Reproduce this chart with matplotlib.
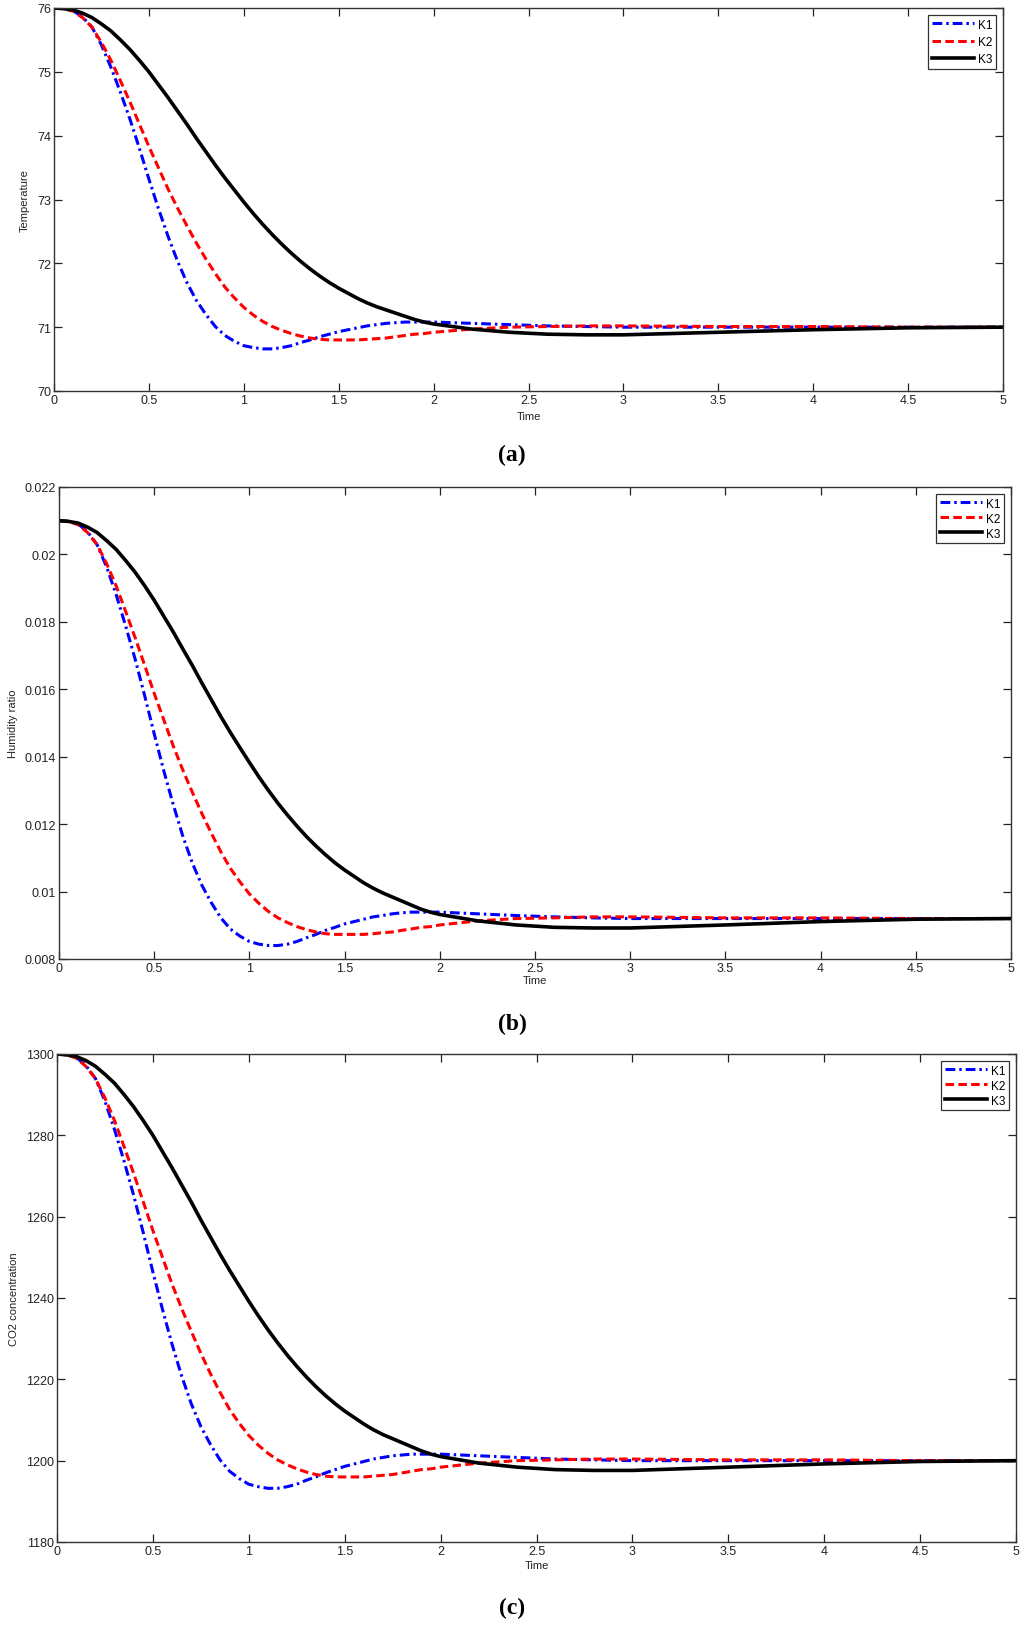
import numpy as np
import matplotlib
matplotlib.use('Agg')
import matplotlib.pyplot as plt
from matplotlib.ticker import FuncFormatter, MultipleLocator

plt.rcParams['font.family'] = ['Liberation Sans', 'DejaVu Sans']

# time samples
t = [0, 0.05, 0.1, 0.15, 0.2, 0.25, 0.3, 0.35, 0.4, 0.45, 0.5, 0.55, 0.6, 0.65,
     0.7, 0.75, 0.8, 0.85, 0.9, 0.95, 1.0, 1.05, 1.1, 1.15, 1.2, 1.25, 1.3, 1.35,
     1.4, 1.45, 1.5, 1.55, 1.6, 1.65, 1.7, 1.75, 1.8, 1.85, 1.9, 1.95, 2.0,
     2.2, 2.4, 2.6, 2.8, 3.0, 3.5, 4.0, 4.5, 5.0]

# (a) temperature
temp_k1 = [76.0, 75.99, 75.96, 75.86, 75.7, 75.42, 75.07, 74.68, 74.26, 73.8, 73.32,
           72.86, 72.43, 72.04, 71.7, 71.42, 71.2, 71.01, 70.87, 70.78, 70.71, 70.68,
           70.66, 70.66, 70.68, 70.71, 70.76, 70.8, 70.85, 70.89, 70.93, 70.96,
           70.99, 71.02, 71.04, 71.06, 71.07, 71.08, 71.08, 71.08, 71.08,
           71.06, 71.04, 71.02, 71.01, 71.0, 71.0, 71.0, 71.0, 71.0]
temp_k2 = [76.0, 75.99, 75.95, 75.85, 75.7, 75.46, 75.18, 74.86, 74.53, 74.18, 73.83,
           73.5, 73.17, 72.87, 72.59, 72.32, 72.07, 71.84, 71.63, 71.46, 71.31, 71.19,
           71.09, 71.01, 70.95, 70.9, 70.86, 70.83, 70.81, 70.8, 70.8, 70.8, 70.8,
           70.81, 70.82, 70.83, 70.85, 70.87, 70.89, 70.9, 70.92,
           70.97, 71.0, 71.01, 71.02, 71.02, 71.01, 71.01, 71.0, 71.0]
temp_k3 = [76.0, 75.99, 75.97, 75.92, 75.85, 75.75, 75.64, 75.5, 75.35, 75.18, 75.0,
           74.8, 74.6, 74.39, 74.18, 73.96, 73.75, 73.54, 73.34, 73.15, 72.96, 72.78,
           72.61, 72.45, 72.3, 72.16, 72.03, 71.91, 71.8, 71.7, 71.61, 71.53, 71.45,
           71.38, 71.32, 71.27, 71.22, 71.17, 71.12, 71.08, 71.05,
           70.97, 70.92, 70.89, 70.88, 70.88, 70.92, 70.96, 70.99, 71.0]

# (b) humidity ratio
hum_k1 = [0.02100, 0.02098, 0.02091, 0.02067, 0.02029, 0.01963, 0.01881, 0.01788,
          0.01689, 0.01581, 0.01468, 0.01359, 0.01258, 0.01165, 0.01085, 0.01019,
          0.00967, 0.00922, 0.00889, 0.00868, 0.00852, 0.00844, 0.00840, 0.00840,
          0.00844, 0.00852, 0.00863, 0.00873, 0.00885, 0.00894, 0.00904, 0.00911,
          0.00918, 0.00925, 0.00929, 0.00934, 0.00937, 0.00939, 0.00939, 0.00939,
          0.00939, 0.00934, 0.00929, 0.00925, 0.00922, 0.0092, 0.0092, 0.0092,
          0.0092, 0.0092]
hum_k2 = [0.02100, 0.02098, 0.02088, 0.02065, 0.02029, 0.01973, 0.01907, 0.01831,
          0.01753, 0.01671, 0.01588, 0.01510, 0.01432, 0.01361, 0.01295, 0.01232,
          0.01173, 0.01118, 0.01069, 0.01029, 0.00993, 0.00965, 0.00941, 0.00922,
          0.00908, 0.00896, 0.00887, 0.00880, 0.00875, 0.00873, 0.00873, 0.00873,
          0.00873, 0.00875, 0.00878, 0.00880, 0.00885, 0.00889, 0.00894, 0.00896,
          0.00901, 0.00913, 0.00920, 0.00922, 0.00925, 0.00925, 0.00922, 0.00922,
          0.0092, 0.0092]
hum_k3 = [0.02100, 0.02098, 0.02093, 0.02081, 0.02065, 0.02041, 0.02015, 0.01982,
          0.01947, 0.01907, 0.01864, 0.01817, 0.01770, 0.01720, 0.01671, 0.01619,
          0.01569, 0.01519, 0.01472, 0.01427, 0.01383, 0.01340, 0.01300, 0.01262,
          0.01227, 0.01194, 0.01163, 0.01135, 0.01109, 0.01085, 0.01064, 0.01045,
          0.01026, 0.01010, 0.00996, 0.00984, 0.00972, 0.00960, 0.00948, 0.00939,
          0.00932, 0.00913, 0.00901, 0.00894, 0.00892, 0.00892, 0.00901, 0.00911,
          0.00918, 0.0092]

# (c) CO2 concentration
co2_k1 = [1300, 1299.8, 1299.2, 1297.2, 1294.0, 1288.4, 1281.4, 1273.6, 1265.2, 1256.0,
          1246.4, 1237.2, 1228.6, 1220.8, 1214.0, 1208.4, 1204.0, 1200.2, 1197.4,
          1195.6, 1194.2, 1193.6, 1193.2, 1193.2, 1193.6, 1194.2, 1195.2, 1196.0,
          1197.0, 1197.8, 1198.6, 1199.2, 1199.8, 1200.4, 1200.8, 1201.2, 1201.4,
          1201.6, 1201.6, 1201.6, 1201.6, 1201.2, 1200.8, 1200.4, 1200.2, 1200,
          1200, 1200, 1200, 1200]
co2_k2 = [1300, 1299.8, 1299.0, 1297.0, 1294.0, 1289.2, 1283.6, 1277.2, 1270.6, 1263.6,
          1256.6, 1250.0, 1243.4, 1237.4, 1231.8, 1226.4, 1221.4, 1216.8, 1212.6,
          1209.2, 1206.2, 1203.8, 1201.8, 1200.2, 1199.0, 1198.0, 1197.2, 1196.6,
          1196.2, 1196.0, 1196.0, 1196.0, 1196.0, 1196.2, 1196.4, 1196.6, 1197.0,
          1197.4, 1197.8, 1198.0, 1198.4, 1199.4, 1200.0, 1200.2, 1200.4, 1200.4,
          1200.2, 1200.2, 1200, 1200]
co2_k3 = [1300, 1299.8, 1299.4, 1298.4, 1297.0, 1295.0, 1292.8, 1290.0, 1287.0, 1283.6,
          1280.0, 1276.0, 1272.0, 1267.8, 1263.6, 1259.2, 1255.0, 1250.8, 1246.8,
          1243.0, 1239.2, 1235.6, 1232.2, 1229.0, 1226.0, 1223.2, 1220.6, 1218.2,
          1216.0, 1214.0, 1212.2, 1210.6, 1209.0, 1207.6, 1206.4, 1205.4, 1204.4,
          1203.4, 1202.4, 1201.6, 1201.0, 1199.4, 1198.4, 1197.8, 1197.6, 1197.6,
          1198.4, 1199.2, 1199.8, 1200]

legend_names = ['K1', 'K2', 'K3']
panel_tags = ['(a)', '(b)', '(c)']
ylabels = ['Temperature', 'Humidity ratio', 'CO2 concentration']

W, H = 1024, 1631
fig = plt.figure(figsize=(W / 100, H / 100), dpi=100)


def px_axes(left, top, right, bottom):
    return fig.add_axes([left / W, 1 - bottom / H, (right - left) / W, (bottom - top) / H])


def fmt(v, pos):
    return '%g' % round(v, 6)


panels = [
    dict(box=(54, 9, 1003, 392), data=(temp_k1, temp_k2, temp_k3),
         ylim=(70, 76), ystep=1, ylab_x=25, time_y=417, tag_y=455, lspace=0.45),
    dict(box=(59, 488, 1011, 960), data=(hum_k1, hum_k2, hum_k3),
         ylim=(0.008, 0.022), ystep=0.002, ylab_x=13, time_y=981, tag_y=1024, lspace=0.25),
    dict(box=(57, 1055, 1016, 1543), data=(co2_k1, co2_k2, co2_k3),
         ylim=(1180, 1300), ystep=20, ylab_x=14, time_y=1566, tag_y=1608, lspace=0.25),
]

for p, tag, ylab in zip(panels, panel_tags, ylabels):
    ax = px_axes(*p['box'])
    k1, k2, k3 = p['data']
    ax.plot(t, k1, color='#0000ff', lw=2.2, ls=(0, (3.2, 1.3, 0.8, 1.3)), label=legend_names[0])
    ax.plot(t, k2, color='#ff0000', lw=2.2, ls=(0, (2.8, 1.4)), label=legend_names[1])
    ax.plot(t, k3, color='black', lw=2.6, ls='-', label=legend_names[2])
    ax.set_xlim(0, 5)
    ax.set_ylim(*p['ylim'])
    ax.xaxis.set_major_locator(MultipleLocator(0.5))
    ax.yaxis.set_major_locator(MultipleLocator(p['ystep']))
    ax.xaxis.set_major_formatter(FuncFormatter(fmt))
    ax.yaxis.set_major_formatter(FuncFormatter(fmt))
    ax.tick_params(direction='in', top=True, right=True, length=6, width=0.9,
                   labelsize=9, colors='#222222', pad=2)
    for s in ax.spines.values():
        s.set_color('#333333')
        s.set_linewidth(1.0)
    leg = ax.legend(loc='upper right', fontsize=8.5, frameon=True, fancybox=False,
                    edgecolor='black', handlelength=3.6, handletextpad=0.3,
                    borderpad=0.3, labelspacing=p['lspace'], borderaxespad=0.6)
    leg.get_frame().set_linewidth(0.9)
    left, top, right, bottom = p['box']
    fig.text((left + right) / 2 / W, 1 - p['time_y'] / H, 'Time',
             ha='center', va='center', fontsize=8, color='#222222')
    fig.text(p['ylab_x'] / W, 1 - (top + bottom) / 2 / H, ylab, rotation=90,
             ha='center', va='center', fontsize=8, color='#222222')
    fig.text(512 / W, 1 - p['tag_y'] / H, tag, ha='center', va='center',
             fontsize=17, fontweight='bold', family='Liberation Serif')

fig.savefig('out.png', dpi=100, facecolor='white')
